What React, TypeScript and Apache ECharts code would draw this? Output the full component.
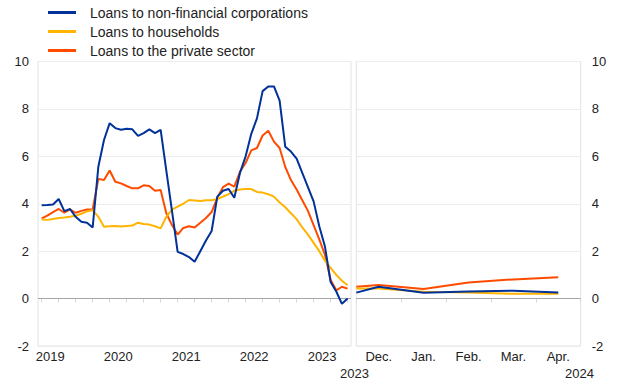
import React, { useEffect, useRef } from "react";
import * as echarts from "echarts";

const seriesNames = [
  "Loans to non-financial corporations",
  "Loans to households",
  "Loans to the private sector",
];
const colors = ["#003299", "#ffb400", "#ff4b00"];

const yearLabels = ["2019", "2020", "2021", "2022", "2023"];
// monthly observations, Jan 2019 = index 0
const nfcLeft = [
  3.94, 3.95, 3.97, 4.2, 3.69, 3.78, 3.45, 3.24, 3.2, 3.0,
  5.56, 6.69, 7.4, 7.19, 7.12, 7.16, 7.14, 6.86, 6.98, 7.14,
  6.98, 7.12, 5.4, 3.7, 1.97, 1.88, 1.75, 1.55, 2.0, 2.45,
  2.85, 4.3, 4.55, 4.62, 4.25, 5.3, 6.0, 6.95, 7.6, 8.75,
  8.95, 8.95, 8.35, 6.4, 6.2, 5.9, 5.3, 4.7, 4.1, 3.05,
  2.2, 0.7, 0.3, -0.22, 0.0,
];
const hhLeft = [
  3.34, 3.32, 3.36, 3.4, 3.42, 3.45, 3.5, 3.58, 3.68, 3.73,
  3.45, 3.03, 3.05, 3.06, 3.04, 3.06, 3.08, 3.2, 3.15, 3.12,
  3.05, 2.96, 3.45, 3.75, 3.88, 4.0, 4.16, 4.14, 4.12, 4.15,
  4.15, 4.2, 4.3, 4.4, 4.55, 4.6, 4.62, 4.62, 4.5, 4.47,
  4.4, 4.3, 4.05, 3.85, 3.6, 3.35, 3.0, 2.7, 2.35, 2.0,
  1.6, 1.3, 1.0, 0.75, 0.56,
];
const pvtLeft = [
  3.38, 3.5, 3.65, 3.78, 3.62, 3.76, 3.62, 3.7, 3.76, 3.76,
  5.05, 5.0, 5.4, 4.93, 4.86, 4.75, 4.65, 4.65, 4.78, 4.75,
  4.55, 4.58, 3.6, 3.1, 2.7, 2.98, 3.05, 3.0, 3.2, 3.4,
  3.65, 4.25, 4.7, 4.85, 4.72, 5.35, 5.72, 6.25, 6.35, 6.88,
  7.08, 6.62, 6.35, 5.55, 5.0, 4.6, 4.15, 3.7, 3.1, 2.5,
  1.85, 0.8, 0.35, 0.5, 0.42,
];

const monthLabels = ["Dec.", "Jan.", "Feb.", "Mar.", "Apr."];
// position relative to Dec. 2023 (= 0)
const rightX = [-0.5, 0, 1, 2, 3, 4];
const nfcRight = [0.25, 0.5, 0.25, 0.3, 0.33, 0.26];
const hhRight = [0.43, 0.43, 0.29, 0.26, 0.2, 0.2];
const pvtRight = [0.5, 0.57, 0.4, 0.68, 0.81, 0.9];

const yTicks = [-2, 0, 2, 4, 6, 8, 10];

const FONT = "'Liberation Sans', Arial, Helvetica, sans-serif";

export default function App() {
  const ref = useRef<HTMLDivElement>(null);
  useEffect(() => {
    if (!ref.current) return;
    const chart = echarts.init(ref.current, null, { renderer: "svg" });
    const leftSeriesData = [nfcLeft, hhLeft, pvtLeft];
    const rightSeriesData = [nfcRight, hhRight, pvtRight];
    const lineStyleCommon = { width: 2 };
    const zeroLine = {
      silent: true,
      symbol: "none",
      label: { show: false },
      lineStyle: { color: "#a6a6a6", width: 1, type: "solid" },
      data: [{ yAxis: 0 }],
    };
    const leftSeries = leftSeriesData.map((arr, k) => ({
      name: seriesNames[k],
      type: "line",
      xAxisIndex: 0,
      yAxisIndex: 0,
      showSymbol: false,
      symbol: "none",
      data: arr.map((v, i) => [i, v]),
      lineStyle: { ...lineStyleCommon, color: colors[k] },
      itemStyle: { color: colors[k] },
      z: 10 - k,
      ...(k === 0 ? { markLine: zeroLine } : {}),
    }));
    const rightSeries = rightSeriesData.map((arr, k) => ({
      name: seriesNames[k],
      type: "line",
      xAxisIndex: 1,
      yAxisIndex: 1,
      showSymbol: false,
      symbol: "none",
      data: arr.map((v, i) => [rightX[i], v]),
      lineStyle: { ...lineStyleCommon, color: colors[k] },
      itemStyle: { color: colors[k] },
      z: 10 - k,
      ...(k === 0 ? { markLine: zeroLine } : {}),
    }));

    const axisLabelStyle = { color: "#222", fontSize: 13, fontFamily: FONT };

    chart.setOption({
      animation: false,
      textStyle: { fontFamily: FONT },
      legend: {
        orient: "vertical",
        left: 48,
        top: 5,
        padding: 0,
        itemWidth: 28,
        itemHeight: 3,
        itemGap: 4,
        icon: "rect",
        data: seriesNames,
        textStyle: {
          color: "#222",
          fontSize: 14,
          fontFamily: FONT,
          lineHeight: 15,
          padding: [0, 0, 0, 9],
        },
      },
      grid: [
        {
          left: 38,
          top: 61.5,
          width: 313,
          height: 284.5,
          show: true,
          borderColor: "#e3e3e3",
          borderWidth: 1,
        },
        {
          left: 356.3,
          top: 61.5,
          width: 224.4,
          height: 284.5,
          show: true,
          borderColor: "#e3e3e3",
          borderWidth: 1,
        },
      ],
      xAxis: [
        {
          type: "value",
          gridIndex: 0,
          min: -0.65,
          max: 54.6,
          axisLine: { show: false },
          splitLine: { show: false },
          axisTick: {
            show: true,
            length: 4,
            lineStyle: { color: "#d9d9d9" },
            customValues: [0, 3, 6, 9, 12, 15, 18, 21, 24, 27, 30, 33, 36, 39, 42, 45, 48, 51, 54],
          },
          axisLabel: {
            ...axisLabelStyle,
            margin: 4,
            customValues: [1.5, 13.5, 25.5, 37.5, 49.5],
            formatter: (v: number) => yearLabels[Math.round((v - 1.5) / 12)] ?? "",
          },
        },
        {
          type: "value",
          gridIndex: 1,
          min: -0.5,
          max: 4.5,
          axisLine: { show: false },
          splitLine: { show: false },
          axisTick: {
            show: true,
            length: 4,
            lineStyle: { color: "#d9d9d9" },
            customValues: [-0.5, 0.5, 1.5, 2.5, 3.5, 4.5],
          },
          axisLabel: {
            ...axisLabelStyle,
            margin: 4,
            customValues: [0, 1, 2, 3, 4],
            formatter: (v: number) => monthLabels[Math.round(v)] ?? "",
          },
        },
      ],
      yAxis: [
        {
          type: "value",
          gridIndex: 0,
          min: -2,
          max: 10,
          interval: 2,
          position: "left",
          axisLine: { show: false },
          axisTick: { show: false },
          axisLabel: { ...axisLabelStyle, margin: 9, formatter: (v: number) => (yTicks.includes(v) ? String(v) : "") },
          splitLine: { show: true, lineStyle: { color: "#ececec", width: 1 } },
        },
        {
          type: "value",
          gridIndex: 1,
          min: -2,
          max: 10,
          interval: 2,
          position: "right",
          axisLine: { show: false },
          axisTick: { show: false },
          axisLabel: { ...axisLabelStyle, margin: 11, formatter: (v: number) => (yTicks.includes(v) ? String(v) : "") },
          splitLine: { show: true, lineStyle: { color: "#ececec", width: 1 } },
        },
      ],
      graphic: [
        {
          type: "text",
          left: 340,
          top: 367,
          style: { text: "2023", fill: "#222", fontSize: 13, fontFamily: FONT },
        },
        {
          type: "text",
          left: 565,
          top: 367,
          style: { text: "2024", fill: "#222", fontSize: 13, fontFamily: FONT },
        },
      ],
      series: [...leftSeries, ...rightSeries],
    });
    return () => chart.dispose();
  }, []);
  return (
    <div
      ref={ref}
      style={{ position: "fixed", left: 0, top: 0, width: 620, height: 387, background: "#fff" }}
    />
  );
}
